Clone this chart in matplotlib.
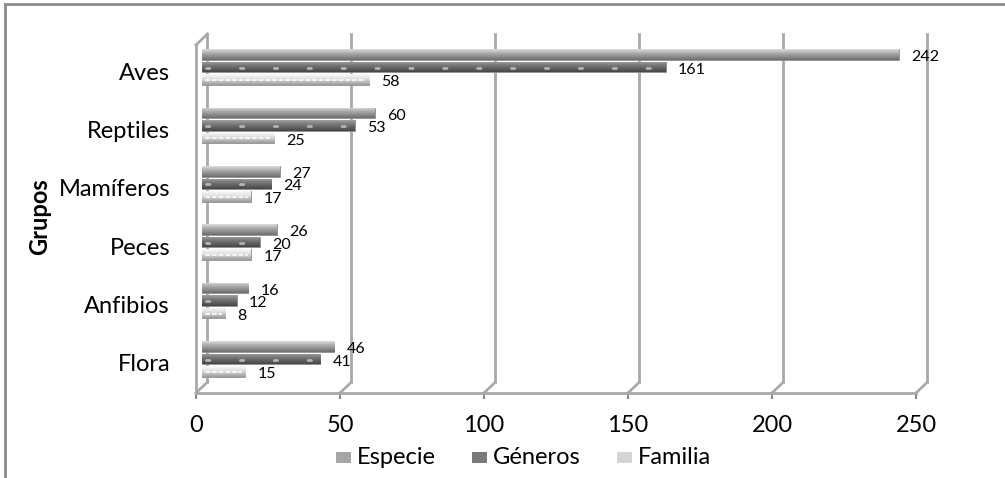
import numpy as np
import matplotlib.pyplot as plt
from matplotlib.patches import Rectangle
from matplotlib.lines import Line2D
from matplotlib.colors import to_rgb

plt.rcParams['font.family'] = ['Lato', 'DejaVu Sans']

# datos por grupo (de arriba hacia abajo en la figura)
grupos = ['Aves', 'Reptiles', 'Mamíferos', 'Peces', 'Anfibios', 'Flora']
especie = [242, 60, 27, 26, 16, 46]
generos = [161, 53, 24, 20, 12, 41]
familia = [58, 25, 17, 17, 8, 15]
series = ['Especie', 'Géneros', 'Familia']
ticks = [0, 50, 100, 150, 200, 250]

# colores: (claro arriba, base, oscuro abajo), puntos (color, patron, grosor)
estilos = {
    'Especie': (('#dcdcdc', '#a9a9a9', '#6e6e6e'), None),
    'Géneros': (('#a0a0a0', '#767676', '#474747'), ('#b4b4b4', (0, (1.2, 11)), 2)),
    'Familia': (('#fafafa', '#e2e2e2', '#9c9c9c'), ('#f4f4f4', (0, (1.5, 1.5)), 1.6)),
}
legend_col = {'Especie': '#a6a6a6', 'Géneros': '#7a7a7a', 'Familia': '#d4d4d4'}

W, H = 1005, 478
fig = plt.figure(figsize=(W / 100, H / 100), dpi=100)


def fx(px):
    return px / W


def fy(py):
    return 1 - py / H


ax = fig.add_axes([fx(202), fy(387), 720 / W, (387 - 39) / H])
ax.axis('off')
ybot, ytop = -0.48, 5.48
# desplazamiento de la pared del fondo y del borde frontal (efecto 3D)
bdx, bdy = 1.9, 0.086
fdx, fdy = -2.1, -0.103
gris = '#a9a9a9'
lw = 2.0

# pared del fondo con lineas de division
for v in ticks:
    ax.add_line(Line2D([v + bdx, v + bdx], [ybot + bdy, ytop + bdy], color=gris, lw=lw, clip_on=False))
    ax.add_line(Line2D([v + bdx, v + fdx], [ybot + bdy, ybot + fdy], color=gris, lw=lw, clip_on=False))
    ax.add_line(Line2D([v + fdx, v + fdx], [ybot + fdy, ybot + fdy - 0.09], color='#8a8a8a', lw=1.5, clip_on=False))
    ax.text(v + fdx, ybot + fdy - 0.55, str(v), ha='center', va='center', fontsize=17, clip_on=False)

# suelo y pared izquierda
ax.add_line(Line2D([fdx, ticks[-1] + fdx], [ybot + fdy, ybot + fdy], color=gris, lw=lw, clip_on=False))
ax.add_line(Line2D([fdx, fdx], [ybot + fdy, ytop + fdy], color=gris, lw=lw, clip_on=False))
ax.add_line(Line2D([fdx, bdx], [ytop + fdy, ytop + bdy], color=gris, lw=lw, clip_on=False))

pos = np.arange(len(grupos))[::-1]
h = 0.18
sep = 0.214
valores = {'Especie': especie, 'Géneros': generos, 'Familia': familia}
offs = {'Especie': sep, 'Géneros': 0.0, 'Familia': -sep}

for s in series:
    (c_top, c_mid, c_bot), dots = estilos[s]
    bars = ax.barh(pos + offs[s], valores[s], height=h, color=c_mid,
                   edgecolor='#8c8c8c', linewidth=0.6, zorder=3)
    # sombreado cilindrico de cada barra
    stops = np.array([to_rgb(c) for c in (c_top, c_mid, c_bot)])
    t = np.linspace(0, 1, 40)
    grad = np.stack([np.interp(t, [0, 0.4, 1], stops[:, k]) for k in range(3)], axis=1)[:, None, :]
    for b in bars:
        x0, y0, w_, h_ = b.get_x(), b.get_y(), b.get_width(), b.get_height()
        im = ax.imshow(grad, extent=[x0, x0 + w_, y0, y0 + h_], aspect='auto',
                       origin='upper', zorder=3.5, interpolation='bilinear')
        im.set_clip_path(b)
    for p, v in zip(pos, valores[s]):
        if dots:
            ax.plot([1.5, v - 1.5], [p + offs[s] - 0.01] * 2, color=dots[0], lw=dots[2],
                    linestyle=dots[1], dash_capstyle='round', zorder=4)
        ax.text(v + 4.3, p + offs[s] - 0.045, str(v), ha='left', va='center',
                fontsize=11.5, zorder=5)

# nombres de grupos
for p, g in zip(pos, grupos):
    ax.text(fdx - 9.0, p + fdy, g, ha='right', va='center', fontsize=17, clip_on=False)

ax.set_xlim(0, 250)
ax.set_ylim(ybot, ytop)

fig.text(fx(40), fy(217), 'Grupos', rotation=90, ha='center', va='center',
         fontsize=17, fontweight='bold')

# leyenda
leg_x = [336, 472, 617]
for s, x in zip(series, leg_x):
    fig.patches.append(Rectangle((fx(x), fy(463)), 15 / W, 11 / H, transform=fig.transFigure,
                                 facecolor=legend_col[s], edgecolor='none'))
    fig.text(fx(x + 21), fy(457), s, ha='left', va='center', fontsize=17)

# marco exterior
fig.add_artist(Line2D([fx(5), fx(5)], [0, fy(4)], color='#8c8c8c', lw=2))
fig.add_artist(Line2D([fx(5), 1], [fy(4), fy(4)], color='#8c8c8c', lw=2))

fig.savefig('out.png', dpi=100)
